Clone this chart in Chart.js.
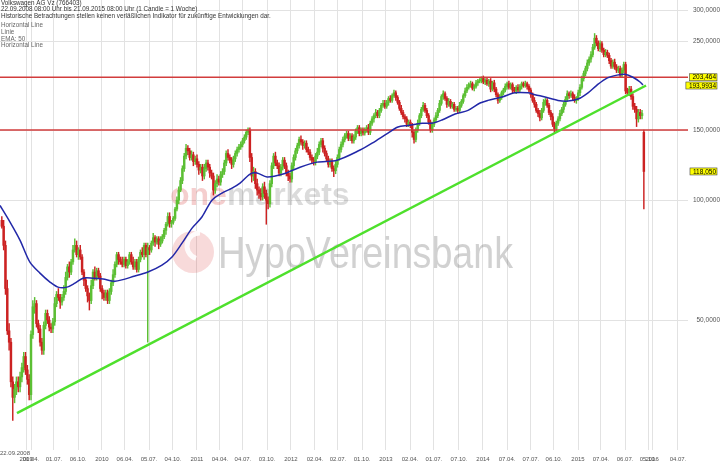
<!DOCTYPE html>
<html>
<head>
<meta charset="utf-8">
<script src="https://cdn.jsdelivr.net/npm/chart.js@4.4.1/dist/chart.umd.min.js"></script>
<style>
  html, body { margin: 0; padding: 0; background: #fff; }
  canvas { display: block; }
</style>
</head>
<body>
<canvas id="chart" width="720" height="466"></canvas>
<script>
// Volkswagen AG Vz - Wochenkerzen, log. Skala rechts
Chart.defaults.font.family = '"Liberation Sans", Arial, sans-serif'
Chart.defaults.color = '#555'

// Woche 0 = 22.09.2008, erste sichtbare Kerze = Woche 12
const firstWeek = 12
const firstOpen = 89
const gapOpen = [[364, 148]]

// Schlusskurse pro Woche (aus dem Bild geschätzt)
const closes = [
    86, 77, 60, 47, 44, 35, 32, 33.5, 35, 34,
    36, 38, 40.5, 37.5, 35.5, 32.5, 46, 54, 55, 49,
    47.5, 44, 42, 48.5, 52, 50, 48, 47.5, 49.5, 55,
    58, 57, 55.5, 57, 59, 64, 68, 66, 70, 75,
    77, 73, 75, 72, 66, 63, 60, 57.5, 56, 61,
    66, 64, 66.5, 64.5, 60, 58.5, 57, 58.5, 56, 59,
    62, 65, 69, 73, 71, 70, 69, 71, 68.5, 70,
    73, 70, 68, 70, 67, 71, 74, 73, 77, 73,
    76, 75, 78, 80.5, 78.5, 80, 77.5, 79, 81, 84,
    87, 91, 87.5, 88, 90, 95, 100, 106, 112, 120,
    129, 135, 133, 128, 130, 125, 127, 123, 119, 121,
    115, 120, 124, 121, 117, 115, 106, 110, 113, 111,
    116, 118, 124, 131, 128, 126, 123, 127, 131, 134,
    136, 138, 141, 144, 148, 150, 128, 115, 118, 110,
    106, 104, 102, 108, 104, 100, 98, 110, 122, 129,
    124, 122, 117, 121, 126, 122, 117, 115, 113, 122,
    128, 133, 137, 142, 140, 137, 139, 134, 132, 128,
    126, 124.5, 129, 132, 138, 141, 135, 131, 127, 123,
    125, 120, 118.5, 123, 128, 134, 138, 142, 145, 147,
    143, 145, 141, 144, 149, 152, 147, 150, 147.5, 150,
    152, 148, 156, 160, 163, 166, 163, 168, 173, 175,
    172, 176, 180, 178, 183, 186, 181, 176, 170, 166,
    162, 160, 155, 157, 154, 148, 142, 150, 156, 163,
    169, 173, 168, 163, 157, 150, 155, 159, 163, 168,
    175, 182, 185, 180, 174, 177, 172, 174, 169, 170,
    168, 173, 177, 183, 188, 192, 195, 196, 191, 193,
    197, 199, 200, 202, 198, 200, 196, 199, 190, 197,
    190, 184, 178, 181, 186, 189, 193, 196, 192, 195,
    189, 188, 192, 189, 193, 196, 194, 196, 193, 189,
    184, 178, 174, 168, 165, 161, 168, 176, 178, 173,
    166, 162, 155, 151, 156, 160, 165, 169, 174, 179,
    185, 183, 185, 181, 178, 180, 186, 192, 202, 208,
    214, 221, 226, 232, 242, 255, 248, 240, 247, 238,
    232, 235, 231, 224, 217, 222, 216, 212, 214, 206,
    212, 219, 188, 186, 190, 182, 172, 169, 160, 166,
    163, 165, 118.05
]

// Dochte über / unter dem Körper (EUR)
const wickUp = [
    2, 3, 2, 3, 2, 1, 1, 1, 1, 1,
    1, 1, 1, 1, 1, 1, 1, 2, 2, 1,
    1, 1, 1, 1, 1, 1, 1, 1, 1, 2,
    1, 2, 1, 1, 2, 2, 1, 2, 1, 2,
    3, 2, 1, 2, 1, 1, 1, 1, 1, 2,
    1, 2, 1, 1, 1, 1, 1, 1, 1, 1,
    1, 2, 1, 1, 1, 1, 2, 1, 1, 1,
    1, 1, 2, 1, 1, 1, 1, 2, 1, 1,
    2, 1, 1, 2, 1, 1, 1, 2, 1, 1,
    1, 2, 2, 1, 1, 1, 2, 2, 2, 2,
    2, 3, 2, 2, 3, 2, 2, 3, 2, 2,
    2, 3, 2, 2, 2, 2, 2, 2, 3, 2,
    2, 2, 2, 2, 3, 2, 2, 2, 2, 2,
    2, 2, 2, 2, 2, 2, 2, 3, 3, 2,
    3, 2, 3, 2, 3, 2, 2, 2, 2, 2,
    3, 2, 2, 2, 2, 2, 2, 2, 2, 2,
    2, 2, 2, 2, 3, 2, 2, 2, 2, 2,
    2, 2, 2, 3, 2, 2, 2, 2, 2, 2,
    2, 2, 2, 2, 2, 2, 2, 2, 2, 2,
    2, 2, 2, 2, 2, 2, 2, 2, 2, 2,
    2, 3, 2, 2, 2, 3, 2, 2, 2, 3,
    3, 2, 2, 3, 2, 3, 2, 2, 2, 3,
    2, 2, 2, 2, 2, 2, 2, 2, 3, 2,
    2, 3, 2, 2, 2, 2, 2, 2, 3, 2,
    3, 2, 3, 2, 2, 3, 2, 2, 2, 2,
    2, 3, 2, 2, 3, 3, 2, 3, 2, 2,
    3, 2, 2, 2, 3, 2, 3, 2, 3, 2,
    3, 2, 2, 3, 2, 2, 3, 2, 3, 2,
    2, 3, 2, 3, 2, 2, 2, 3, 2, 2,
    2, 2, 3, 2, 2, 3, 2, 3, 2, 2,
    2, 2, 3, 2, 2, 2, 3, 2, 2, 3,
    3, 2, 3, 2, 3, 2, 3, 3, 3, 3,
    3, 4, 3, 4, 4, 7, 4, 3, 4, 3,
    3, 4, 3, 3, 3, 3, 4, 3, 3, 3,
    3, 3, 3, 3, 3, 3, 3, 3, 3, 3,
    3, 3, 2
]
const wickDown = [
    1, 2, 2, 1, 2, 1, 4, 1, 1, 1,
    1, 1, 1, 1, 1, 1, 1, 1, 2, 1,
    1, 1, 1, 1, 1, 1, 1, 1, 1, 1,
    1, 1, 2, 1, 1, 1, 1, 2, 1, 1,
    1, 1, 2, 1, 1, 2, 1, 2, 3, 1,
    1, 1, 1, 1, 1, 2, 1, 1, 1, 1,
    1, 1, 1, 1, 2, 1, 1, 1, 1, 1,
    1, 1, 1, 1, 1, 1, 1, 1, 2, 1,
    29, 2, 1, 1, 2, 1, 2, 1, 1, 1,
    2, 1, 2, 2, 1, 1, 1, 2, 1, 2,
    2, 2, 3, 2, 2, 3, 2, 2, 3, 2,
    3, 2, 2, 2, 3, 2, 3, 2, 2, 2,
    2, 2, 2, 2, 2, 2, 3, 2, 2, 2,
    2, 2, 2, 2, 2, 2, 3, 4, 3, 3,
    3, 3, 2, 2, 3, 13, 3, 2, 2, 2,
    2, 2, 2, 2, 2, 2, 2, 3, 2, 2,
    2, 2, 2, 2, 2, 3, 2, 2, 2, 2,
    2, 2, 2, 2, 2, 2, 3, 2, 2, 2,
    2, 2, 4, 2, 2, 2, 2, 2, 2, 2,
    2, 2, 2, 2, 2, 2, 2, 2, 2, 2,
    2, 2, 2, 2, 3, 2, 2, 2, 2, 2,
    2, 2, 3, 2, 2, 2, 3, 2, 2, 2,
    2, 3, 2, 2, 2, 4, 3, 2, 2, 2,
    2, 2, 2, 2, 2, 2, 2, 2, 2, 2,
    2, 2, 3, 2, 3, 2, 2, 2, 2, 2,
    3, 2, 2, 2, 2, 2, 2, 3, 2, 3,
    2, 3, 2, 3, 2, 3, 2, 3, 3, 2,
    3, 2, 3, 2, 2, 2, 2, 3, 2, 2,
    3, 2, 3, 2, 2, 3, 2, 2, 3, 2,
    3, 2, 3, 2, 3, 3, 2, 2, 3, 2,
    2, 3, 2, 3, 2, 2, 2, 2, 3, 2,
    2, 3, 2, 3, 2, 3, 2, 3, 2, 3,
    3, 3, 3, 4, 3, 3, 4, 3, 4, 3,
    3, 3, 3, 4, 3, 3, 3, 3, 3, 3,
    3, 3, 3, 3, 3, 3, 3, 3, 7, 3,
    3, 3, 23
]

// EMA 50
const emaWeeks = [11, 16.5, 22, 27.4, 32.9, 38.4, 42.8, 47.7, 52.1, 56.5,
    62, 67.5, 74, 85, 92.1, 99.8, 105.3, 110.8, 116.3, 121.7,
    127.2, 132.7, 138.2, 142.6, 148.1, 151.9, 157.4, 166.2, 175.5, 184.8,
    195.8, 208.4, 215, 223.7, 229.2, 234.7, 242.4, 247.8, 253.3, 260.5,
    267.6, 274.2, 278.5, 286.2, 293.3, 300.5, 304.3, 309.8, 316.9, 322.4,
    327.9, 333.4, 338.3, 343.8, 349.3, 353.7, 358, 361.9, 363.5]
const emaValues = [97, 88.1, 79.3, 69.9, 65.6, 62.3, 60.5, 60.5, 61.9, 63.7,
    63.7, 63.4, 62.6, 64.5, 66, 68.7, 72, 78, 85.1, 90.7,
    100, 104.2, 107.2, 110.4, 116.3, 117, 114.3, 116.3, 121, 124.6,
    126, 133.6, 139, 147.4, 152.6, 154, 156, 156, 159, 164.5,
    168, 175.3, 178, 181.5, 186, 186, 184, 181.5, 178, 177.3,
    179.4, 186, 194.5, 202.5, 206, 207, 203.5, 198, 194.5]

// Trendlinie und horizontale Linien
const trendWeeks = [20.3, 365.2]
const trendValues = [29.2, 194]
const hLineValues = [203.464, 150]

// Achsen
const xMin = 11
const xMax = 388.2
const yMin = 23.6
const yMax = 318
const yTicks = [50, 100, 150, 250, 300]
const tickWeeks = [25.3, 28, 40.6, 53.8, 66.9, 79.5, 92.7, 105.8, 119, 131.6,
    144.2, 157.4, 170.5, 183.7, 196.3, 209.5, 222.6, 235.8, 248.9, 262.6,
    275.8, 289, 302.1, 314.7, 327.9, 340.5, 353.7, 366.3, 368.5, 382.7]
const tickLabels = ['2009', '01.04.', '01.07.', '06.10.', '2010', '06.04.', '05.07.', '04.10.', '2011', '04.04.',
    '04.07.', '03.10.', '2012', '02.04.', '02.07.', '01.10.', '2013', '02.04.', '01.07.', '07.10.',
    '2014', '07.04.', '07.07.', '06.10.', '2015', '07.04.', '06.07.', '05.10.', '2016', '04.07.']

// Preismarken rechts
const tagValues = [203.464, 193.9934, 118.05]
const tagTexts = ['203,464', '193,9934', '118,050']

const headLines = [
    'Volkswagen AG Vz (766403)',
    '22.09.2008 08:00 Uhr bis 21.09.2015 08:00 Uhr (1 Candle = 1 Woche)',
    'Historische Betrachtungen stellen keinen verläßlichen Indikator für zukünftige Entwicklungen dar.'
]
const legendLines = ['Horizontal Line', 'Linie', 'EMA: 50', 'Horizontal Line']


const GREEN = '#5cbf34'
const RED = '#cc2222'

// Kerzen zusammenbauen
const weeks = closes.map((c, k) => firstWeek + k)
const opens = closes.map((c, k) => k === 0 ? firstOpen : closes[k - 1])
gapOpen.forEach(([w, o]) => { opens[w - firstWeek] = o })
const highs = closes.map((c, k) => Math.max(opens[k], c) + wickUp[k])
const lows = closes.map((c, k) => Math.min(opens[k], c) - wickDown[k])
const candleColors = closes.map((c, k) => c >= opens[k] ? GREEN : RED)


const overlay = {
    id: 'overlay',
    beforeDatasetsDraw(chart) {
        const ctx = chart.ctx
        ctx.save()
        // Wasserzeichen
        ctx.fillStyle = 'rgba(220,70,70,0.2)'
        ctx.beginPath()
        ctx.arc(193, 252, 21, 0, Math.PI * 2)
        ctx.fill()
        ctx.strokeStyle = 'rgba(255,255,255,0.9)'
        ctx.lineWidth = 5
        ctx.beginPath()
        ctx.arc(200, 246, 13, Math.PI * 0.6, Math.PI * 1.5)
        ctx.stroke()

        ctx.textBaseline = 'alphabetic'
        ctx.font = 'bold 32px "Liberation Sans", Arial, sans-serif'
        ctx.fillStyle = 'rgba(215,60,60,0.25)'
        ctx.fillText('one', 170, 205)
        const w = ctx.measureText('one').width
        ctx.fillStyle = 'rgba(90,90,90,0.22)'
        ctx.fillText('markets', 170 + w, 205)

        ctx.font = '44px "Liberation Sans", Arial, sans-serif'
        const hw = ctx.measureText('HypoVereinsbank').width
        ctx.translate(218, 268)
        ctx.scale(295 / hw, 1)
        ctx.fillStyle = 'rgba(90,90,90,0.28)'
        ctx.fillText('HypoVereinsbank', 0, 0)
        ctx.restore()
    },
    afterDraw(chart) {
        const ctx = chart.ctx
        const y = chart.scales.y
        ctx.save()
        ctx.textBaseline = 'middle'
        ctx.textAlign = 'left'
        ctx.font = '6.3px "Liberation Sans", Arial, sans-serif'
        ctx.fillStyle = '#333'
        headLines.forEach((t, k) => ctx.fillText(t, 1, 3.5 + k * 6.2))
        ctx.fillStyle = '#666'
        legendLines.forEach((t, k) => ctx.fillText(t, 1, 25.5 + k * 6.7))

        ctx.font = '6px "Liberation Sans", Arial, sans-serif'
        ctx.fillStyle = '#555'
        ctx.fillText('22.09.2008', 0, 453)

        // gelbe Preismarken
        ctx.font = '6.5px "Liberation Sans", Arial, sans-serif'
        ctx.textAlign = 'right'
        tagValues.forEach((v, k) => {
            const py = y.getPixelForValue(v)
            const tw = ctx.measureText(tagTexts[k]).width
            ctx.fillStyle = '#ffff00'
            ctx.fillRect(716 - tw - 3, py - 3.5, tw + 4, 7)
            ctx.strokeStyle = '#444'
            ctx.lineWidth = 0.6
            ctx.strokeRect(716 - tw - 3, py - 3.5, tw + 4, 7)
            ctx.fillStyle = '#000'
            ctx.fillText(tagTexts[k], 716, py + 0.3)
        })
        ctx.restore()
    }
}


const datasets = [
    {
        type: 'line',
        data: trendWeeks.map((w, k) => ({ x: w, y: trendValues[k] })),
        borderColor: '#4ee02c',
        borderWidth: 2.5,
        pointRadius: 0,
        order: 0
    },
    {
        type: 'line',
        data: emaWeeks.map((w, k) => ({ x: w, y: emaValues[k] })),
        borderColor: '#2228a8',
        borderWidth: 1.5,
        pointRadius: 0,
        tension: 0.3,
        order: 1
    },
    ...hLineValues.map(v => ({
        type: 'line',
        data: [{ x: xMin, y: v }, { x: xMax, y: v }],
        borderColor: '#d23c3c',
        borderWidth: 1.6,
        pointRadius: 0,
        order: 2
    })),
    {
        type: 'bar',
        data: weeks.map((w, k) => ({ x: w, y: [opens[k], closes[k]] })),
        backgroundColor: candleColors,
        barThickness: 1.8,
        grouped: false,
        order: 3
    },
    {
        type: 'bar',
        data: weeks.map((w, k) => ({ x: w, y: [lows[k], highs[k]] })),
        backgroundColor: candleColors,
        barThickness: 0.8,
        grouped: false,
        order: 4
    }
]

new Chart('chart', {
    type: 'bar',
    data: { datasets },
    options: {
        responsive: false,
        animation: false,
        devicePixelRatio: 1,
        layout: { padding: 0 },
        plugins: {
            legend: { display: false },
            tooltip: { enabled: false }
        },
        scales: {
            x: {
                type: 'linear',
                min: xMin,
                max: xMax,
                offset: false,
                grid: { color: '#e2e2e2', drawTicks: false, offset: false },
                border: { display: false },
                ticks: {
                    autoSkip: false,
                    maxRotation: 0,
                    padding: 6,
                    font: { size: 6 },
                    color: '#555',
                    callback: (v, idx) => tickLabels[idx]
                },
                afterBuildTicks: s => { s.ticks = tickWeeks.map(v => ({ value: v })) },
                afterFit: s => { s.height = 16; s.paddingLeft = 0; s.paddingRight = 0 }
            },
            y: {
                type: 'logarithmic',
                position: 'right',
                min: yMin,
                max: yMax,
                grid: { color: '#e2e2e2', drawTicks: false },
                border: { display: false },
                ticks: {
                    crossAlign: 'far',
                    padding: 4,
                    font: { size: 6.5 },
                    color: '#555',
                    callback: v => v.toFixed(4).replace('.', ',')
                },
                afterBuildTicks: s => { s.ticks = yTicks.map(v => ({ value: v })) },
                afterFit: s => { s.width = 32; s.paddingTop = 0; s.paddingBottom = 0 }
            }
        }
    },
    plugins: [overlay]
})
</script>
</body>
</html>
